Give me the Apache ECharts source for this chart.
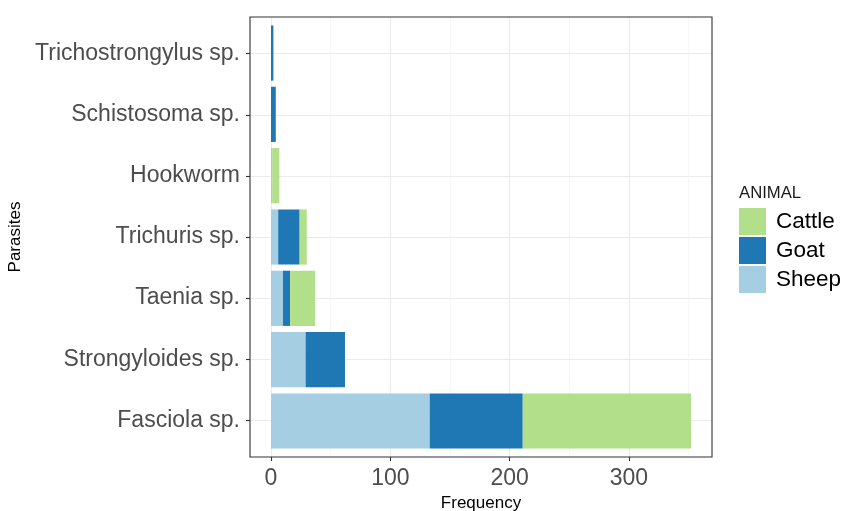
<!DOCTYPE html>
<html><head><meta charset="utf-8">
<script src="https://cdn.jsdelivr.net/npm/echarts@6/dist/echarts.min.js"></script>
<style>html,body{margin:0;padding:0;background:#fff}#c{width:846px;height:511px}</style>
</head><body><div id="c"></div>
<script>
// ---- data ----
const categories = ['Fasciola sp.', 'Strongyloides sp.', 'Taenia sp.', 'Trichuris sp.', 'Hookworm', 'Schistosoma sp.', 'Trichostrongylus sp.'];
const sheep  = [133, 29, 10, 6, 1, 0, 0];
const goat   = [78, 33, 6, 18, 0, 4, 2];
const cattle = [141, 0, 21, 6, 6, 0, 0];
const xTicks = [0, 100, 200, 300];
const legendOrder = ['Cattle', 'Goat', 'Sheep'];

// ---- layout ----
const W = 846, H = 511;
const panelLeft = 250, panelRight = 712, panelTop = 17, panelBottom = 457;
const n = categories.length;
const unit = (panelBottom - panelTop) / (n + 1.2);
const inset = 0.1 * unit;
const totals = categories.map((c, i) => sheep[i] + goat[i] + cattle[i]);
const maxTotal = Math.max(...totals);
const xMin = -0.05 * maxTotal, xMax = maxTotal * 1.05;
const yPos = categories.map((c, i) => i + 1);

const font = '"Liberation Sans", Arial, sans-serif';
const chart = echarts.init(document.getElementById('c'), null, {renderer: 'canvas'});
chart.setOption({
  animation: false,
  textStyle: {fontFamily: font},
  title: {text: 'ANIMAL', left: 739, top: 185, padding: 0,
    textStyle: {fontSize: 16.7, fontWeight: 'normal', color: '#1a1a1a', fontFamily: font}},
  legend: {data: legendOrder, orient: 'vertical', left: 739, top: 208, padding: 0,
    itemWidth: 27, itemHeight: 27, itemGap: 2, icon: 'rect', selectedMode: false,
    textStyle: {fontSize: 22.5, color: '#000', fontFamily: font, padding: [2, 0, 0, 5]}},
  grid: [
    {left: panelLeft, right: W - panelRight, top: panelTop + inset, bottom: H - panelBottom + inset,
      containLabel: false, outerBoundsMode: 'none'},
    {left: panelLeft, right: W - panelRight, top: panelTop, bottom: H - panelBottom,
      containLabel: false, outerBoundsMode: 'none',
      show: true, z: 5, backgroundColor: 'transparent', borderColor: '#333333', borderWidth: 1.1}
  ],
  xAxis: [
    {gridIndex: 0, type: 'value', min: xMin, max: xMax, show: false, position: 'bottom'},
    {gridIndex: 1, type: 'value', min: xMin, max: xMax, splitNumber: 8, position: 'bottom',
      axisLine: {show: false, onZero: false}, axisTick: {show: false}, axisLabel: {show: false},
      splitLine: {show: true, lineStyle: {color: '#f2f2f2', width: 0.6}}},
    {gridIndex: 1, type: 'value', min: xMin, max: xMax, splitNumber: 4, position: 'bottom',
      axisLine: {show: false, onZero: false},
      axisTick: {show: true, length: 4, customValues: xTicks, lineStyle: {color: '#333333', width: 1.1}},
      axisLabel: {customValues: xTicks, color: '#4d4d4d', fontSize: 23, margin: 10, fontFamily: font},
      splitLine: {show: true, lineStyle: {color: '#ebebeb', width: 1.1}},
      name: 'Frequency', nameLocation: 'middle', nameGap: 35,
      nameTextStyle: {fontSize: 17, color: '#000', fontFamily: font}}
  ],
  yAxis: [
    {gridIndex: 0, type: 'category', data: categories, show: false, position: 'left',
      axisLine: {onZero: false}},
    {gridIndex: 1, type: 'value', min: 0.4, max: n + 0.6, splitNumber: n, position: 'left',
      axisLine: {show: false, onZero: false},
      axisTick: {show: true, length: 4, customValues: yPos, lineStyle: {color: '#333333', width: 1.1}},
      axisLabel: {customValues: yPos, formatter: v => categories[Math.round(v) - 1] || '',
        color: '#4d4d4d', fontSize: 23, margin: 10, fontFamily: font, padding: [5, 0, 0, 0]},
      splitLine: {show: true, lineStyle: {color: '#ebebeb', width: 1.1}},
      name: 'Parasites', nameLocation: 'middle', nameRotate: 90, nameGap: 220,
      nameTextStyle: {fontSize: 17, color: '#000', fontFamily: font}}
  ],
  series: [
    {name: 'Sheep', type: 'bar', stack: 'total', xAxisIndex: 0, yAxisIndex: 0, data: sheep,
      barWidth: '90%', itemStyle: {color: '#A6CEE3'}},
    {name: 'Goat', type: 'bar', stack: 'total', xAxisIndex: 0, yAxisIndex: 0, data: goat,
      barWidth: '90%', itemStyle: {color: '#1F78B4'}},
    {name: 'Cattle', type: 'bar', stack: 'total', xAxisIndex: 0, yAxisIndex: 0, data: cattle,
      barWidth: '90%', itemStyle: {color: '#B2DF8A'}}
  ]
});
</script></body></html>
